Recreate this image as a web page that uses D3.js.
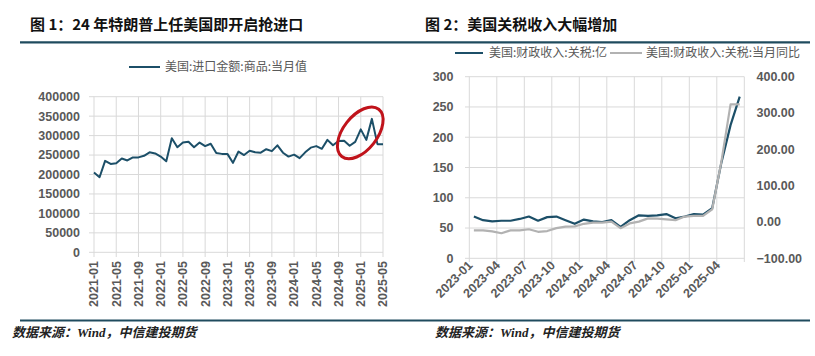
<!DOCTYPE html>
<html><head><meta charset="utf-8">
<script src="https://cdn.jsdelivr.net/npm/d3@7"></script>
<style>body{margin:0;background:#fff} svg{display:block}</style>
</head><body>
<svg id="c" width="815" height="356"></svg>
<script>
// ---------- Data ----------
const importMonths = [
 "2021-01","2021-02","2021-03","2021-04","2021-05","2021-06","2021-07","2021-08","2021-09","2021-10","2021-11","2021-12",
 "2022-01","2022-02","2022-03","2022-04","2022-05","2022-06","2022-07","2022-08","2022-09","2022-10","2022-11","2022-12",
 "2023-01","2023-02","2023-03","2023-04","2023-05","2023-06","2023-07","2023-08","2023-09","2023-10","2023-11","2023-12",
 "2024-01","2024-02","2024-03","2024-04","2024-05","2024-06","2024-07","2024-08","2024-09","2024-10","2024-11","2024-12",
 "2025-01","2025-02","2025-03","2025-04","2025-05"];
const importValues = [
 205000,193000,235000,227000,229000,241000,236000,244000,244000,248000,257000,254000,
 246000,234000,293000,270000,282000,284000,270000,282000,273000,279000,255000,253000,
 253000,230000,259000,250000,261000,257000,256000,265000,260000,275000,256000,246000,
 251000,242000,257000,269000,273000,266000,289000,275000,286000,287000,274000,284000,
 316000,289000,343000,278000,278000];
const importYTicks = [0,50000,100000,150000,200000,250000,300000,350000,400000];
const importXTickLabels = ["2021-01","2021-05","2021-09","2022-01","2022-05","2022-09","2023-01","2023-05","2023-09","2024-01","2024-05","2024-09","2025-01","2025-05"];

const tariffMonths = [
 "2023-01","2023-02","2023-03","2023-04","2023-05","2023-06","2023-07","2023-08","2023-09","2023-10","2023-11","2023-12",
 "2024-01","2024-02","2024-03","2024-04","2024-05","2024-06","2024-07","2024-08","2024-09","2024-10","2024-11","2024-12",
 "2025-01","2025-02","2025-03","2025-04","2025-05","2025-06"];
const tariffRevenue = [69,63,61,62,62,65,69,62,68,69,63,57,64,61,60,63,52,63,71,70,71,73,66,69,73,72,83,158,220,267];
const tariffYoY = [-23,-23,-26,-31,-23,-23,-20,-27,-25,-17,-13,-12,-5,-2,-2,1,-17,-4,1,10,9,7,5,15,17,17,35,166,324,324];
const tariffLeftTicks = [0,50,100,150,200,250,300];
const tariffRightTicks = [-100,0,100,200,300,400];
const tariffXTickLabels = ["2023-01","2023-04","2023-07","2023-10","2024-01","2024-04","2024-07","2024-10","2025-01","2025-04"];

const titles = ["图 1：24 年特朗普上任美国即开启抢进口","图 2：美国关税收入大幅增加"];
const legendLeft = ["美国:进口金额:商品:当月值"];
const legendRight = ["美国:财政收入:关税:亿","美国:财政收入:关税:当月同比"];
const sourceText = "数据来源：Wind，中信建投期货";

// ---------- Styles ----------
const C_LINE = "#1c4f68", C_GRAY = "#b2b2b2", C_RULE = "#1f4b5e", C_GRID = "#d9d9d9", C_TXT = "#595959";
const TICK_FONT = "'Liberation Sans', Arial, sans-serif";
const CJK = "'Noto Sans CJK SC', 'Noto Sans', sans-serif";

const svg = d3.select("#c");
svg.append("rect").attr("width",815).attr("height",356).attr("fill","#fff");

// rules
[42.3, 320.5].forEach(y => svg.append("line").attr("x1",20).attr("x2",810).attr("y1",y).attr("y2",y)
  .attr("stroke",C_RULE).attr("stroke-width",2.2));

// titles
[[30,titles[0]],[425,titles[1]]].forEach(([x,t]) => svg.append("text").attr("x",x).attr("y",30)
  .attr("font-family",CJK).attr("font-weight","bold").attr("font-size",15).attr("fill","#111").text(t));

// sources
[[12,sourceText],[435,sourceText]].forEach(([x,t]) => svg.append("text").attr("x",x).attr("y",337)
  .attr("font-family","'Liberation Serif', 'Noto Sans CJK SC', serif").attr("font-style","italic")
  .attr("font-weight","bold").attr("font-size",13).attr("fill","#222").text(t));

// ---------- Chart 1 ----------
{
  const x = d3.scalePoint().domain(importMonths).range([94,383]);
  const y = d3.scaleLinear().domain([0,400000]).range([252.3,96.7]);
  const g = svg.append("g");
  // horizontal grid
  g.selectAll(".hg").data(importYTicks).join("line")
    .attr("x1",89).attr("x2",383).attr("y1",d=>y(d)).attr("y2",d=>y(d)).attr("stroke",C_GRID);
  // vertical grid
  g.selectAll(".vg").data(importXTickLabels).join("line")
    .attr("x1",d=>x(d)).attr("x2",d=>x(d)).attr("y1",96.7).attr("y2",257).attr("stroke",C_GRID);
  // y labels
  g.selectAll(".yl").data(importYTicks).join("text")
    .attr("x",80).attr("y",d=>y(d)).attr("dy","0.35em").attr("text-anchor","end")
    .attr("font-family",TICK_FONT).attr("font-weight","bold").attr("font-size",12.5).attr("fill",C_TXT)
    .text(d=>d);
  // x labels
  g.selectAll(".xl").data(importXTickLabels).join("text")
    .attr("transform",d=>`translate(${x(d)},261) rotate(-90)`).attr("dy","0.35em").attr("text-anchor","end")
    .attr("font-family",TICK_FONT).attr("font-weight","bold").attr("font-size",12.5).attr("fill",C_TXT)
    .text(d=>d);
  // line
  g.append("path").datum(importValues)
    .attr("d", d3.line().x((d,i)=>x(importMonths[i])).y(d=>y(d)))
    .attr("fill","none").attr("stroke",C_LINE).attr("stroke-width",2).attr("stroke-linejoin","round");
  // highlight ellipse
  g.append("ellipse").attr("cx",x("2025-01")-0.5).attr("cy",y(307000)).attr("rx",30).attr("ry",17)
    .attr("transform",`rotate(-52,${x("2025-01")-0.5},${y(307000)})`)
    .attr("fill","none").attr("stroke","#c0131b").attr("stroke-width",3);
  // legend
  g.append("line").attr("x1",129).attr("x2",160).attr("y1",67).attr("y2",67).attr("stroke",C_LINE).attr("stroke-width",2);
  g.append("text").attr("x",165).attr("y",67).attr("dy","0.35em").attr("font-family",CJK).attr("font-size",12)
    .attr("fill",C_TXT).text(legendLeft[0]);
}

// ---------- Chart 2 ----------
{
  const x = d3.scaleBand().domain(tariffMonths).range([469.3,744.3]).padding(0);
  const xc = d => x(d) + x.bandwidth()/2;
  const yl = d3.scaleLinear().domain([0,300]).range([258.3,76.7]);
  const yr = d3.scaleLinear().domain([-100,400]).range([258.3,76.7]);
  const g = svg.append("g");
  g.selectAll(".hg").data(tariffLeftTicks).join("line")
    .attr("x1",465).attr("x2",744.3).attr("y1",d=>yl(d)).attr("y2",d=>yl(d)).attr("stroke",C_GRID);
  const vgrid = tariffMonths.filter((d,i)=>i%3===0).map(d=>x(d)).concat([744.3]);
  g.selectAll(".vg").data(vgrid).join("line")
    .attr("x1",d=>d).attr("x2",d=>d).attr("y1",76.7).attr("y2",262).attr("stroke",C_GRID);
  g.selectAll(".yl").data(tariffLeftTicks).join("text")
    .attr("x",453.5).attr("y",d=>yl(d)).attr("dy","0.35em").attr("text-anchor","end")
    .attr("font-family",TICK_FONT).attr("font-weight","bold").attr("font-size",12.5).attr("fill",C_TXT).text(d=>d);
  g.selectAll(".yr").data(tariffRightTicks).join("text")
    .attr("x",756.5).attr("y",d=>yr(d)).attr("dy","0.35em").attr("text-anchor","start")
    .attr("font-family",TICK_FONT).attr("font-weight","bold").attr("font-size",12.5).attr("fill",C_TXT)
    .text(d=>d3.format(".2f")(d));
  g.selectAll(".xl").data(tariffXTickLabels).join("text")
    .attr("transform",d=>`translate(${x(d)+4},266) rotate(-45)`).attr("text-anchor","end")
    .attr("font-family",TICK_FONT).attr("font-weight","bold").attr("font-size",12.5).attr("fill",C_TXT).text(d=>d);
  // lines: gray behind? draw blue first then gray
  g.append("path").datum(tariffRevenue)
    .attr("d", d3.line().x((d,i)=>xc(tariffMonths[i])).y(d=>yl(d)))
    .attr("fill","none").attr("stroke",C_LINE).attr("stroke-width",2.2).attr("stroke-linejoin","round");
  g.append("path").datum(tariffYoY)
    .attr("d", d3.line().x((d,i)=>xc(tariffMonths[i])).y(d=>yr(d)))
    .attr("fill","none").attr("stroke",C_GRAY).attr("stroke-width",2.2).attr("stroke-linejoin","round");
  // legend
  g.append("line").attr("x1",455).attr("x2",483).attr("y1",53).attr("y2",53).attr("stroke",C_LINE).attr("stroke-width",2);
  g.append("text").attr("x",489).attr("y",53).attr("dy","0.35em").attr("font-family",CJK).attr("font-size",12)
    .attr("fill",C_TXT).text(legendRight[0]);
  g.append("line").attr("x1",610).attr("x2",642).attr("y1",53).attr("y2",53).attr("stroke",C_GRAY).attr("stroke-width",2);
  g.append("text").attr("x",646).attr("y",53).attr("dy","0.35em").attr("font-family",CJK).attr("font-size",12)
    .attr("fill",C_TXT).text(legendRight[1]);
}
</script>
</body></html>
